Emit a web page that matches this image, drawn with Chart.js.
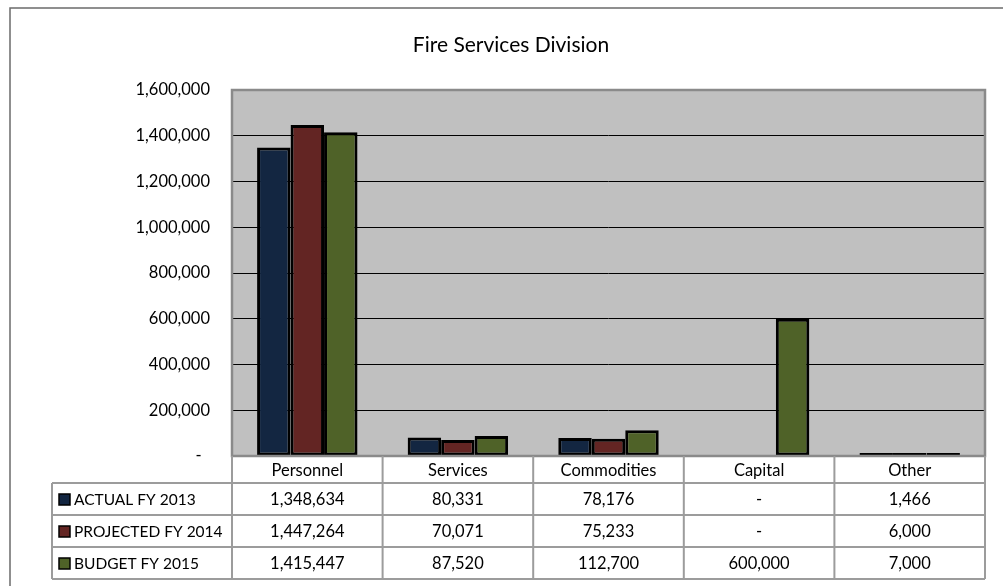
<!DOCTYPE html>
<html><head><meta charset="utf-8">
<script src="https://cdn.jsdelivr.net/npm/chart.js@4/dist/chart.umd.min.js"></script>
<style>html,body{margin:0;padding:0;background:#fff;}canvas{display:block;}</style>
</head><body>
<canvas id="c" width="1003" height="586"></canvas>
<script>
const chartTitle = 'Fire Services Division';
const categories = ['Personnel', 'Services', 'Commodities', 'Capital', 'Other'];
const seriesNames = ['ACTUAL FY 2013', 'PROJECTED FY 2014', 'BUDGET FY 2015'];
const actualFY2013 = [1348634, 80331, 78176, 0, 1466];
const projectedFY2014 = [1447264, 70071, 75233, 0, 6000];
const budgetFY2015 = [1415447, 87520, 112700, 600000, 7000];
const yMax = 1600000;
const yStep = 200000;

const seriesColors = ['#132641', '#632523', '#4F6228'];
const FONT = 'Lato, "Open Sans", sans-serif';
const fmt = v => v === 0 ? '-' : v.toLocaleString('en-US');
const allSeries = [actualFY2013, projectedFY2014, budgetFY2015];

const tablePlugin = {
  id: 'tablePlugin',
  beforeDraw(chart) {
    const ctx = chart.ctx, ca = chart.chartArea;
    ctx.save();
    ctx.fillStyle = '#fff';
    ctx.fillRect(0, 0, chart.width, chart.height);
    ctx.strokeStyle = '#6b6b6b';
    ctx.lineWidth = 1.5;
    ctx.strokeRect(10, 8, chart.width + 20, chart.height + 20);
    ctx.fillStyle = '#C0C0C0';
    ctx.fillRect(ca.left, ca.top, ca.right - ca.left, ca.bottom - ca.top);
    ctx.restore();
  },
  afterDraw(chart) {
    const ctx = chart.ctx, ca = chart.chartArea;
    ctx.save();
    // plot border
    ctx.strokeStyle = '#8a8a8a';
    ctx.lineWidth = 2.5;
    ctx.strokeRect(ca.left, ca.top, ca.right - ca.left, ca.bottom - ca.top);
    // title
    ctx.fillStyle = '#000';
    ctx.font = '21px ' + FONT;
    ctx.textAlign = 'center';
    ctx.textBaseline = 'middle';
    ctx.fillText(chartTitle, 511, 45);
    // table
    const n = categories.length;
    const colW = (ca.right - ca.left) / n;
    const headTop = ca.bottom;
    const headBot = ca.bottom + 27;
    const rowH = 32;
    const tableLeft = 52;
    const tableBot = headBot + rowH * seriesNames.length;
    ctx.strokeStyle = '#9c9c9c';
    ctx.lineWidth = 2;
    ctx.beginPath();
    for (let r = 0; r <= seriesNames.length; r++) {
      const y = headBot + r * rowH;
      ctx.moveTo(tableLeft, y); ctx.lineTo(ca.right, y);
    }
    ctx.moveTo(tableLeft, headBot); ctx.lineTo(tableLeft, tableBot);
    for (let i = 0; i <= n; i++) {
      const x = ca.left + i * colW;
      ctx.moveTo(x, headTop); ctx.lineTo(x, tableBot);
    }
    ctx.stroke();
    ctx.font = '16.5px ' + FONT;
    ctx.fillStyle = '#000';
    ctx.textAlign = 'center';
    for (let i = 0; i < n; i++) {
      const cx = ca.left + (i + 0.5) * colW;
      ctx.fillText(categories[i], cx, (headTop + headBot) / 2 + 1);
      for (let r = 0; r < seriesNames.length; r++) {
        ctx.fillText(fmt(allSeries[r][i]), cx, headBot + r * rowH + rowH / 2 + 1);
      }
    }
    ctx.textAlign = 'left';
    ctx.font = '15.5px ' + FONT;
    for (let r = 0; r < seriesNames.length; r++) {
      const cy = headBot + r * rowH + rowH / 2;
      ctx.fillStyle = seriesColors[r];
      ctx.fillRect(59, cy - 5, 11, 11);
      ctx.strokeStyle = '#000';
      ctx.lineWidth = 1.5;
      ctx.strokeRect(59, cy - 5, 11, 11);
      ctx.fillStyle = '#000';
      ctx.fillText(seriesNames[r], 74, cy + 1);
    }
    ctx.restore();
  }
};

new Chart(document.getElementById('c'), {
  type: 'bar',
  data: {
    labels: categories,
    datasets: seriesNames.map((name, i) => ({
      label: name,
      data: allSeries[i].map(v => v === 0 ? null : v),
      backgroundColor: seriesColors[i],
      borderColor: '#000',
      borderWidth: 3,
      borderSkipped: false,
      minBarLength: 3,
      categoryPercentage: 0.667,
      barPercentage: 1.0
    }))
  },
  options: {
    responsive: false,
    animation: false,
    layout: { padding: { top: 90, right: 18, bottom: 130, left: 0 } },
    plugins: { legend: { display: false }, title: { display: false }, tooltip: { enabled: false } },
    scales: {
      x: { display: false },
      y: {
        min: 0, max: yMax,
        afterFit(scale) { scale.width = 232; },
        border: { display: false },
        grid: { color: '#000', lineWidth: 1, drawTicks: false },
        ticks: {
          stepSize: yStep,
          padding: 22,
          color: '#000',
          font: { family: FONT, size: 16.5 },
          callback: v => v === 0 ? '-  ' : Number(v).toLocaleString('en-US')
        }
      }
    }
  },
  plugins: [tablePlugin]
});
</script>
</body></html>
